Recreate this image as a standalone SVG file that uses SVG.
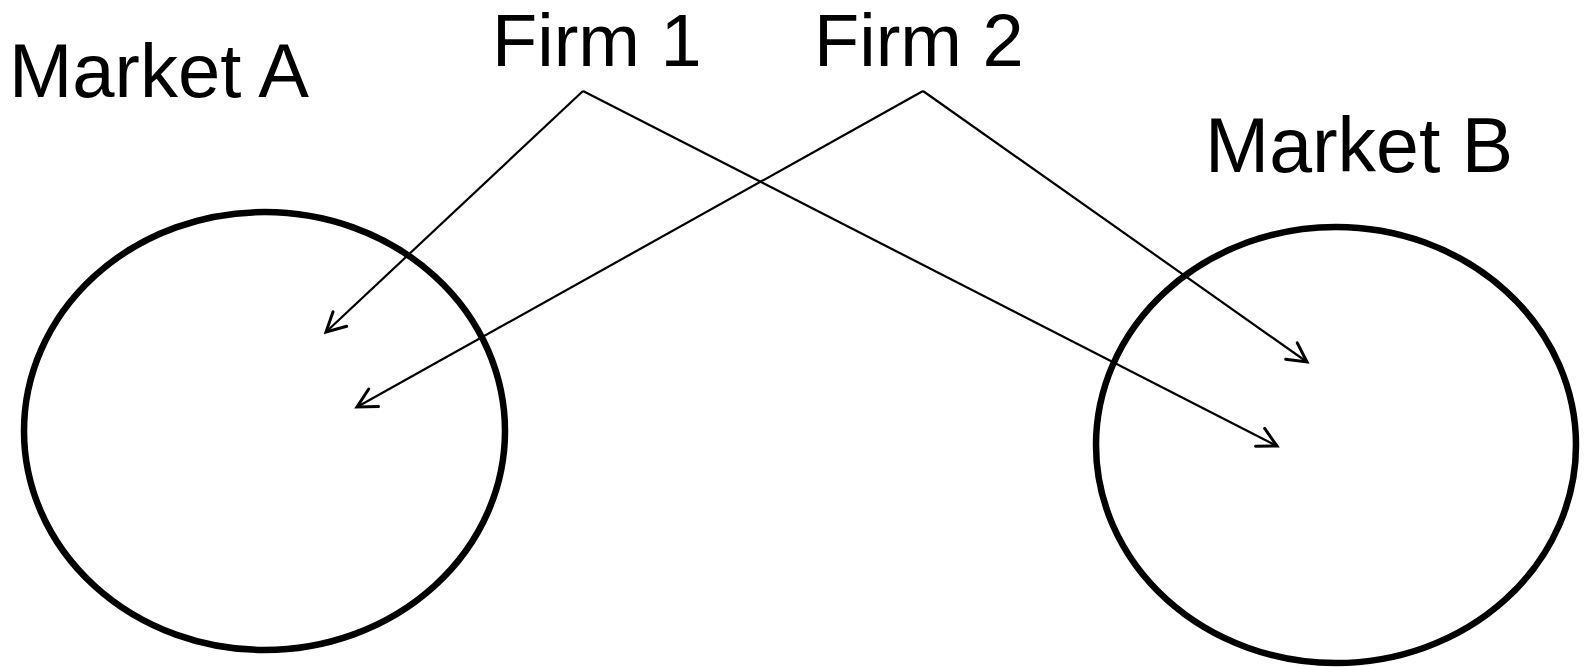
<svg xmlns="http://www.w3.org/2000/svg" width="1584" height="667" viewBox="0 0 1584 667">
<style>
.lbl{font-family:"Liberation Sans",Arial,sans-serif;font-size:76px;fill:#000}
.firm{font-size:74px}
.mkt{fill:none;stroke:#000;stroke-width:6.5}
.con{fill:none;stroke:#000;stroke-width:2.2;marker-end:url(#arr)}
</style>
<defs>
<marker id="arr" markerUnits="userSpaceOnUse" markerWidth="26" markerHeight="26" refX="21" refY="12" orient="auto" overflow="visible">
<path d="M2,2 L21,12 L2,22" fill="none" stroke="#000" stroke-width="3" stroke-linecap="round" stroke-linejoin="miter"/>
</marker>
</defs>
<rect width="1584" height="667" fill="#fff"/>
<g id="marketA">
<ellipse class="mkt" cx="264.5" cy="431" rx="240.5" ry="219"/>
<text class="lbl" x="9" y="97">Market A</text>
</g>
<g id="marketB">
<ellipse class="mkt" cx="1336" cy="445" rx="240" ry="218"/>
<text class="lbl" x="1205" y="172" style="font-size:77px">Market B</text>
</g>
<g id="firm1">
<text class="lbl firm" x="492" y="66">Firm 1</text>
</g>
<g id="firm2">
<text class="lbl firm" x="814" y="66">Firm 2</text>
</g>
<g id="connectors">
<path class="con" d="M583,91 L326,332"/>
<path class="con" d="M583,91 L1277,446"/>
<path class="con" d="M923,91 L357,407"/>
<path class="con" d="M923,91 L1307,362"/>
</g>
</svg>
